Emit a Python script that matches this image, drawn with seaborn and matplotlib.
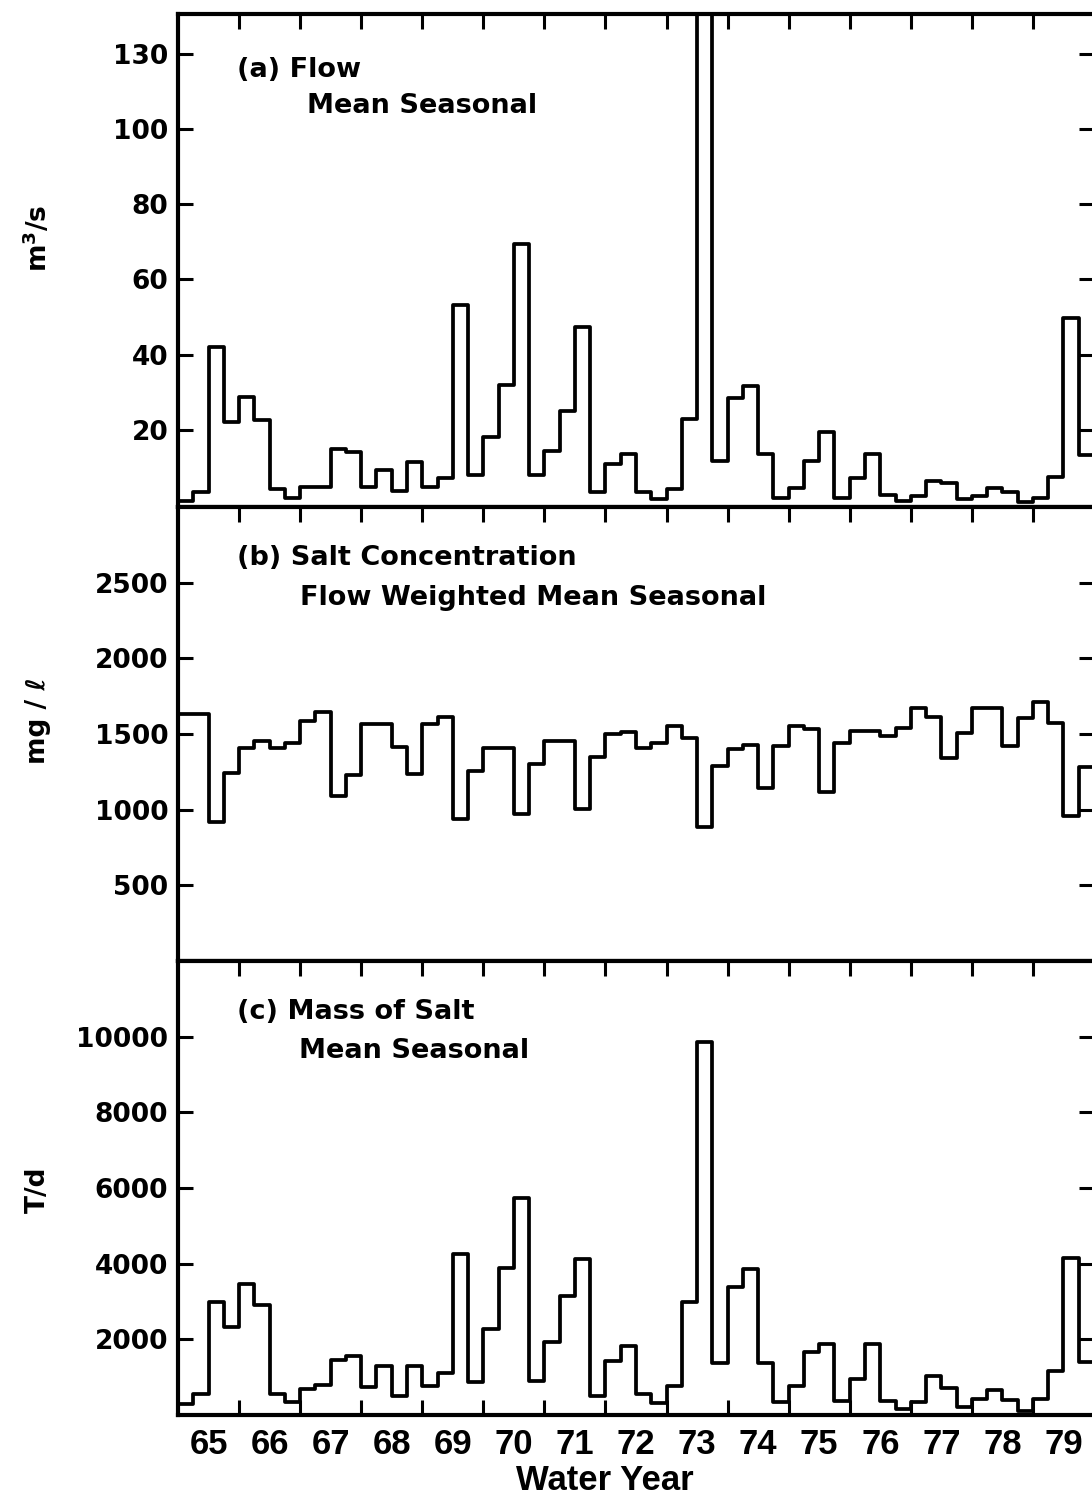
import numpy as np
import pandas as pd
import matplotlib
matplotlib.use('Agg')
import matplotlib.pyplot as plt
import seaborn as sns
from matplotlib.ticker import FixedLocator, NullFormatter, FixedFormatter

# seasonal values, 4 seasons per water year, 65 through 79
years = list(range(65, 80))
year_labels = [str(y) for y in years]

flow = [1.2, 3.4, 42, 22, 28.7, 22.7, 4.3, 2, 4.8, 4.8, 15, 14, 4.8, 9.4, 3.7, 11.4,
        4.8, 7.3, 53.3, 7.9, 18, 32, 69.5, 7.9, 14.5, 25, 47.3, 3.4, 11, 13.7, 3.4, 1.7,
        4.3, 23, 135, 11.8, 28.4, 31.6, 13.7, 2, 4.6, 11.6, 19.4, 2, 7.3, 13.7, 2.7, 1.2,
        2.5, 6.5, 6, 1.5, 2.5, 4.6, 3.4, 0.7, 2, 7.6, 49.8, 13.2]

conc = [1630, 1630, 918, 1242, 1407, 1453, 1407, 1440, 1585, 1645, 1090, 1229, 1565, 1565, 1413, 1235,
        1565, 1612, 938, 1255, 1407, 1407, 971, 1301, 1453, 1453, 1004, 1347, 1500, 1512, 1407, 1440,
        1552, 1473, 885, 1288, 1400, 1427, 1143, 1420, 1552, 1532, 1116, 1440, 1519, 1519, 1486, 1539,
        1671, 1612, 1341, 1506, 1671, 1671, 1420, 1605, 1711, 1572, 958, 1281]

mass = [289, 553, 2974, 2316, 3474, 2895, 553, 342, 684, 790, 1447, 1552, 737, 1289, 500, 1289,
        763, 1105, 4263, 868, 2263, 3895, 5737, 895, 1921, 3158, 4132, 500, 1421, 1816, 553, 316,
        763, 3000, 9869, 1368, 3395, 3868, 1368, 342, 763, 1658, 1868, 368, 947, 1868, 368, 158,
        342, 1026, 710, 210, 421, 658, 395, 105, 421, 1158, 4158, 1395]

flow_ticks = [20, 40, 60, 80, 100, 120]
flow_ticklabels = ['20', '40', '60', '80', '100', '130']
conc_ticks = [500, 1000, 1500, 2000, 2500]
conc_ticklabels = ['500', '1000', '1500', '2000', '2500']
mass_ticks = [2000, 4000, 6000, 8000, 10000]
mass_ticklabels = ['2000', '4000', '6000', '8000', '10000']

n = len(flow)
t = years[0] + np.arange(n) * 0.25
# extra edge so the last season is drawn out to the end of 79
df = pd.DataFrame({'t': np.append(t, years[-1] + 1.0),
                   'flow': flow + [flow[-1]],
                   'conc': conc + [conc[-1]],
                   'mass': mass + [mass[-1]]})

sns.set_style('white')
plt.rcParams['font.family'] = ['DejaVu Sans']
plt.rcParams['font.weight'] = 'bold'
plt.rcParams['text.color'] = 'black'
plt.rcParams['axes.labelcolor'] = 'black'
plt.rcParams['xtick.color'] = 'black'
plt.rcParams['ytick.color'] = 'black'

W, H = 1092, 1497
fig = plt.figure(figsize=(W / 100, H / 100), dpi=100)

left = 178 / W
width = 916 / W
ax_a = fig.add_axes([left, 1 - 507 / H, width, 493 / H])
ax_b = fig.add_axes([left, 1 - 961 / H, width, 454 / H], sharex=ax_a)
ax_c = fig.add_axes([left, 1 - 1415 / H, width, 454 / H], sharex=ax_a)

panels = [
    (ax_a, 'flow', (-0.5, 130.5), flow_ticks, flow_ticklabels, 'm$^3$/s', 0.546,
     '(a) Flow', 'Mean Seasonal', (0.141, 0.799)),
    (ax_b, 'conc', (0, 3000), conc_ticks, conc_ticklabels, 'mg / ℓ', 0.529,
     '(b) Salt Concentration', 'Flow Weighted Mean Seasonal', (0.133, 0.784)),
    (ax_c, 'mass', (0, 12000), mass_ticks, mass_ticklabels, 'T/d', 0.496,
     '(c) Mass of Salt', 'Mean Seasonal', (0.132, 0.786)),
]

for ax, col, ylim, yt, ytl, ylab, ylab_y, title1, title2, pos2 in panels:
    sns.lineplot(data=df, x='t', y=col, ax=ax, drawstyle='steps-post',
                 color='black', linewidth=2.7, estimator=None)
    ax.set_xlim(years[0], years[-1] + 1)
    ax.set_ylim(*ylim)
    for s in ax.spines.values():
        s.set_linewidth(3.0)
        s.set_color('black')

    ax.yaxis.set_major_locator(FixedLocator(yt))
    ax.yaxis.set_major_formatter(FixedFormatter(ytl))
    ax.tick_params(axis='y', which='major', direction='in', left=True, right=True,
                   length=11, width=2.2, pad=7, labelsize=19)

    ax.xaxis.set_major_locator(FixedLocator(years[1:]))
    ax.xaxis.set_major_formatter(NullFormatter())
    ax.xaxis.set_minor_locator(FixedLocator([y + 0.5 for y in years]))
    ax.xaxis.set_minor_formatter(NullFormatter())
    ax.tick_params(axis='x', which='major', direction='in', top=True,
                   bottom=(ax is ax_c), length=11, width=2.2)
    ax.tick_params(axis='x', which='minor', length=0)

    ax.set_xlabel('')
    ax.set_ylabel(ylab, fontsize=19, fontweight='bold')
    ax.yaxis.label.set_verticalalignment('center')
    ax.yaxis.set_label_coords(-0.153, ylab_y)

    ax.text(0.064, 0.872, title1, transform=ax.transAxes, fontsize=19.5,
            fontweight='bold', va='baseline', ha='left')
    ax.text(pos2[0], pos2[1], title2, transform=ax.transAxes, fontsize=19.5,
            fontweight='bold', va='baseline', ha='left')

# year labels sit in the middle of each water year
ax_c.xaxis.set_minor_formatter(FixedFormatter(year_labels))
ax_c.tick_params(axis='x', which='minor', pad=9)
for lab in ax_c.xaxis.get_minorticklabels():
    lab.set_family('Liberation Sans')
    lab.set_fontsize(25)
    lab.set_fontweight('bold')

ax_c.set_xlabel('Water Year', fontsize=25, fontweight='bold', family='Liberation Sans')
ax_c.xaxis.set_label_coords(0.466, -0.108)

fig.savefig('out.png', dpi=100, facecolor='white')
